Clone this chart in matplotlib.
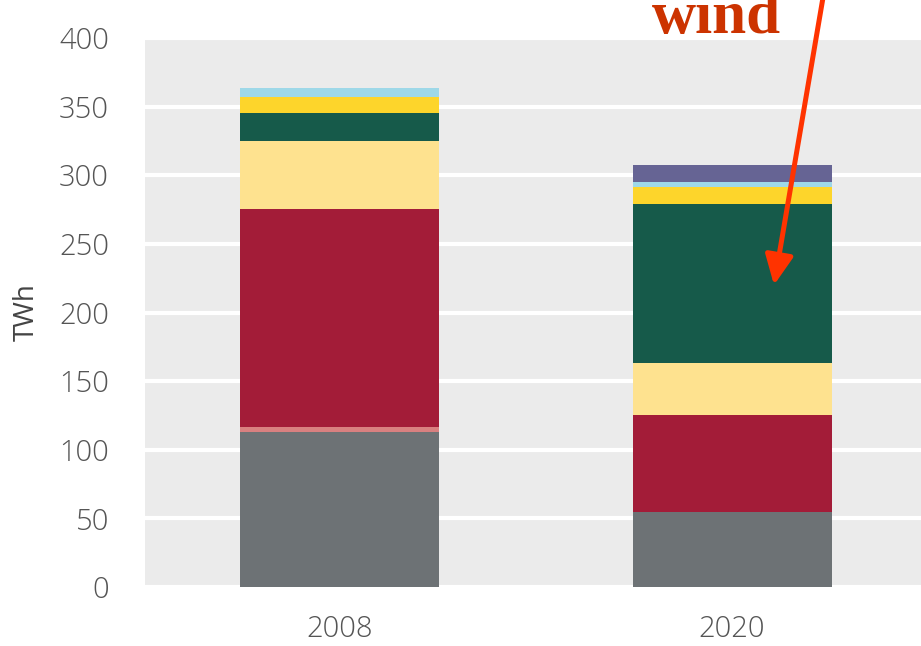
import matplotlib
matplotlib.use("Agg")
import matplotlib.pyplot as plt

years = ["2008", "2020"]
# stacked segments, bottom to top (TWh)
gray = [113.2, 54.6]
pink = [3.6, 0.0]
crimson = [158.4, 70.7]
light_yellow = [49.8, 37.9]
green = [20.1, 115.9]
yellow = [12.1, 12.3]
light_blue = [6.2, 3.5]
purple = [0.0, 12.6]

segments = [gray, pink, crimson, light_yellow, green, yellow, light_blue, purple]
colors = ["#6d7275", "#d98080", "#a31c38", "#fee28f", "#165a4a",
          "#fdd52b", "#9ed8e8", "#666494"]

fig = plt.figure(figsize=(9.21, 6.46), dpi=100)
ax = fig.add_axes([145 / 921, 59 / 646, 776 / 921, 549 / 646])
ax.set_facecolor("#ebebeb")

x = [0, 1]
bottom = [0.0, 0.0]
for seg, col in zip(segments, colors):
    ax.bar(x, seg, width=0.507, bottom=bottom, color=col, zorder=3)
    bottom = [b + s for b, s in zip(bottom, seg)]

ax.set_xlim(-0.4955, 1.4815)
ax.set_ylim(0, 400)
ax.set_yticks(range(0, 401, 50))
ax.set_xticks(x)
ax.set_xticklabels(years)
ax.grid(axis="y", color="white", linewidth=3, zorder=1)
for s in ax.spines.values():
    s.set_visible(False)
ax.tick_params(axis="both", length=0, labelcolor="#555555", labelsize=21)
ax.tick_params(axis="y", pad=26)
ax.tick_params(axis="x", pad=20)
for lbl in ax.get_xticklabels() + ax.get_yticklabels():
    lbl.set_family("Open Sans")
    lbl.set_fontweight("light")

ax.set_ylabel("TWh", fontsize=20, color="#444444", family="Open Sans",
              va="center")
ax.yaxis.set_label_coords(-0.152, 0.5)

# annotation
fig.text(652 / 921, 613 / 646, "wind", fontsize=44, fontweight="bold",
         family="Liberation Serif", color="#cc3300", va="baseline", ha="left")
ax.annotate("", xy=(1.107, 220), xycoords="data",
            xytext=(826, 666), textcoords="figure pixels",
            annotation_clip=False,
            arrowprops=dict(arrowstyle="-|>,head_length=18,head_width=8.5",
                            mutation_scale=1, color="#ff3300", lw=3.6,
                            shrinkA=0, shrinkB=0))

fig.savefig("out.png", dpi=100)
